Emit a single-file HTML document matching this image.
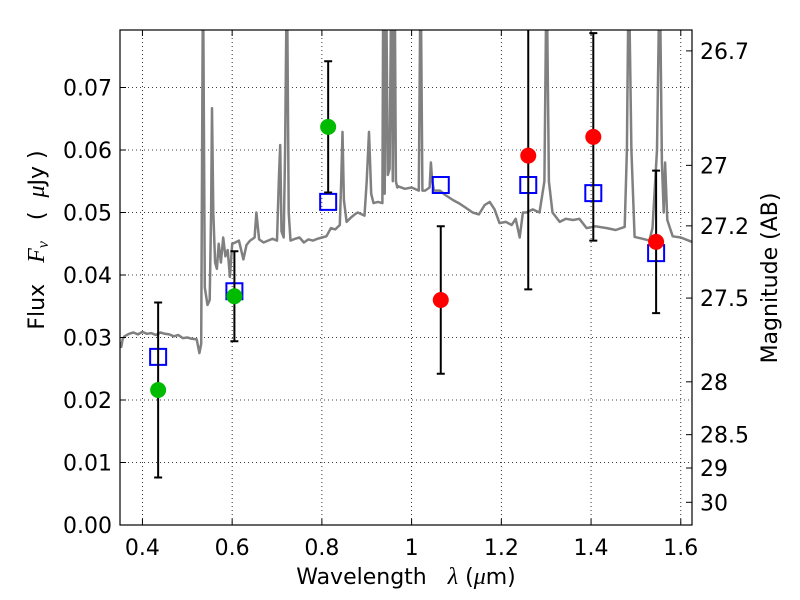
<!DOCTYPE html>
<html><head><meta charset="utf-8"><style>
body{margin:0;background:#fff;}
svg{display:block;font-family:"DejaVu Sans","Liberation Sans",sans-serif;}
</style></head><body>
<svg id="chart" width="800" height="600" viewBox="0 0 800 600" xmlns="http://www.w3.org/2000/svg">
<rect x="0" y="0" width="800" height="600" fill="#fff"/>
<g id="grid"></g>
<g id="spec"></g>
<g id="pts"></g>
<g id="axes"></g>
<text x="406" y="584" font-size="22" text-anchor="middle" xml:space="preserve">Wavelength   <tspan font-style="italic" font-family="Liberation Serif,serif" font-size="24">λ</tspan> (<tspan font-style="italic" font-family="Liberation Serif,serif" font-size="24">μ</tspan>m)</text>
<text transform="translate(44,240) rotate(-90)" font-size="22" text-anchor="middle" xml:space="preserve">Flux   <tspan font-style="italic" font-family="Liberation Serif,serif" font-size="24">F<tspan font-size="16" dy="4">ν</tspan></tspan><tspan dy="-4">   (  </tspan><tspan font-style="italic" font-family="Liberation Serif,serif" font-size="24">μ</tspan>Jy )</text>
<text transform="translate(777,278) rotate(-90)" font-size="22" text-anchor="middle">Magnitude (AB)</text>
</svg>
<script>
const xTicks=[0.4,0.6,0.8,1.0,1.2,1.4,1.6];
const xTickLabels=["0.4","0.6","0.8","1","1.2","1.4","1.6"];
const yTicks=[0,0.01,0.02,0.03,0.04,0.05,0.06,0.07];
const yTickLabels=["0.00","0.01","0.02","0.03","0.04","0.05","0.06","0.07"];
const magTicks=[26.7,27,27.2,27.5,28,28.5,29,30];
const magTickLabels=["26.7","27","27.2","27.5","28","28.5","29","30"];
const bandWave=[0.435,0.605,0.814,1.065,1.26,1.405,1.545];
const obsFlux=[0.0216,0.0366,0.0637,0.0360,0.0591,0.0621,0.0453];
const obsErr=[0.0140,0.0072,0.0105,0.0118,0.0214,0.0166,0.0114];
const obsColor=["#00bb00","#00bb00","#00bb00","#ff0000","#ff0000","#ff0000","#ff0000"];
const modelFlux=[0.0269,0.0374,0.0517,0.0544,0.0544,0.0531,0.0435];
const specWave=[0.35,0.353,0.356,0.36,0.37,0.38,0.39,0.40,0.41,0.42,0.43,0.44,0.45,0.46,0.47,0.48,0.49,0.50,0.51,0.521,0.527,0.531,0.535,0.539,0.545,0.55,0.553,0.555,0.558,0.562,0.566,0.57,0.575,0.58,0.585,0.59,0.595,0.60,0.607,0.615,0.625,0.632,0.64,0.65,0.654,0.66,0.67,0.68,0.69,0.70,0.704,0.707,0.71,0.715,0.718,0.722,0.726,0.73,0.74,0.75,0.76,0.77,0.78,0.79,0.80,0.81,0.82,0.83,0.84,0.843,0.846,0.849,0.855,0.865,0.875,0.88,0.895,0.90,0.905,0.91,0.915,0.925,0.935,0.937,0.94,0.943,0.947,0.951,0.955,0.958,0.962,0.965,0.968,0.97,0.985,1.0,1.016,1.02,1.024,1.03,1.04,1.043,1.046,1.05,1.063,1.075,1.092,1.105,1.12,1.136,1.15,1.163,1.174,1.185,1.196,1.21,1.223,1.232,1.241,1.248,1.256,1.27,1.285,1.296,1.301,1.306,1.314,1.33,1.344,1.36,1.374,1.39,1.41,1.435,1.455,1.475,1.480,1.484,1.490,1.497,1.515,1.53,1.537,1.547,1.553,1.558,1.562,1.565,1.570,1.582,1.60,1.625];
const specFlux=[0.0293,0.0285,0.0298,0.0302,0.0306,0.0308,0.0305,0.0309,0.0306,0.0307,0.0304,0.0308,0.0306,0.0305,0.0302,0.0304,0.0299,0.0300,0.0298,0.0297,0.0275,0.0290,0.090,0.038,0.0352,0.036,0.050,0.0667,0.050,0.042,0.041,0.045,0.042,0.046,0.043,0.044,0.0397,0.045,0.0452,0.0455,0.0425,0.0448,0.0455,0.046,0.0500,0.0457,0.0452,0.0455,0.0458,0.0455,0.055,0.0608,0.047,0.046,0.060,0.090,0.050,0.0455,0.0458,0.046,0.0452,0.0457,0.0455,0.0458,0.046,0.0462,0.0475,0.0473,0.048,0.055,0.0629,0.052,0.0485,0.0492,0.0498,0.050,0.0495,0.055,0.0629,0.053,0.0515,0.0517,0.0515,0.090,0.053,0.090,0.056,0.057,0.090,0.055,0.090,0.055,0.054,0.0542,0.0538,0.054,0.0535,0.090,0.0535,0.0535,0.054,0.058,0.055,0.0535,0.0535,0.0528,0.052,0.0515,0.0508,0.050,0.0497,0.0512,0.0517,0.0505,0.0483,0.0485,0.048,0.049,0.046,0.050,0.050,0.0505,0.050,0.055,0.090,0.055,0.050,0.0485,0.049,0.0488,0.049,0.0475,0.0478,0.0475,0.0472,0.0477,0.060,0.090,0.060,0.0461,0.0458,0.0455,0.0475,0.060,0.090,0.058,0.050,0.058,0.0488,0.0462,0.0460,0.0453];

const X0=120,X1=692,Y0=30,Y1=525,xMin=0.35,xMax=1.625,yMin=0,yMax=0.0792;
const sx=v=>X0+(v-xMin)/(xMax-xMin)*(X1-X0);
const sy=v=>Y1-(v-yMin)/(yMax-yMin)*(Y1-Y0);
const magToFlux=m=>Math.pow(10,(23.9-m)/2.5);
const NS="http://www.w3.org/2000/svg";
function mk(tag,attrs,parent){const e=document.createElementNS(NS,tag);for(const k in attrs)e.setAttribute(k,attrs[k]);parent.appendChild(e);return e;}
const grid=document.getElementById('grid'),spec=document.getElementById('spec'),pts=document.getElementById('pts'),axes=document.getElementById('axes');

xTicks.forEach((t,i)=>{
  const g=mk('line',{x1:sx(t),x2:sx(t),y1:Y0,y2:Y1,stroke:'#000','stroke-width':0.8,'stroke-dasharray':'1,3'},grid);
  
  
  const tk=mk('line',{x1:sx(t),x2:sx(t),y1:Y1,y2:Y1-6,stroke:'#000','stroke-width':1},axes);
  
  
  const tt=mk('line',{x1:sx(t),x2:sx(t),y1:Y0,y2:Y0+6,stroke:'#000','stroke-width':1},axes);
  
  
  const l=mk('text',{x:sx(t),y:Y1+30,'font-size':22,'text-anchor':'middle'},axes);
  l.textContent=xTickLabels[i];
  
  
});
yTicks.forEach((t,i)=>{
  if(t>0){
    const g=mk('line',{x1:X0,x2:X1,y1:sy(t),y2:sy(t),stroke:'#000','stroke-width':0.8,'stroke-dasharray':'1,3'},grid);
    
    
  }
  const tk=mk('line',{x1:X0,x2:X0+6,y1:sy(t),y2:sy(t),stroke:'#000','stroke-width':1},axes);
  
  
  const l=mk('text',{x:X0-8,y:sy(t)+8,'font-size':22,'text-anchor':'end'},axes);
  l.textContent=yTickLabels[i];
  
  
});
magTicks.forEach((m,i)=>{
  const y=sy(magToFlux(m));
  const tk=mk('line',{x1:X1,x2:X1-6,y1:y,y2:y,stroke:'#000','stroke-width':1},axes);
  
  
  const l=mk('text',{x:X1+8,y:y+8,'font-size':22},axes);
  l.textContent=magTickLabels[i];
  
  
});

mk('clipPath',{id:'clip'},document.getElementById('chart'));
mk('rect',{x:X0,y:Y0,width:X1-X0,height:Y1-Y0},document.getElementById('clip'));
const d=specWave.map((w,i)=>(i?'L':'M')+sx(w).toFixed(1)+','+sy(specFlux[i]).toFixed(1)).join(' ');
const sp=mk('path',{d:d,fill:'none',stroke:'#808080','stroke-width':2.5,'stroke-linejoin':'round','clip-path':'url(#clip)'},spec);



bandWave.forEach((w,i)=>{
  const x=sx(w);
  const top=Math.max(sy(obsFlux[i]+obsErr[i]),Y0),bot=sy(obsFlux[i]-obsErr[i]);
  const sq=mk('rect',{x:x-8,y:sy(modelFlux[i])-8,width:16,height:16,fill:'none',stroke:'#0000ff','stroke-width':2},pts);
  
  
  const eb=mk('line',{x1:x,x2:x,y1:top,y2:bot,stroke:'#000','stroke-width':2},pts);
  
  
  [top,bot].forEach(yy=>{
    if(yy<=Y0)return;
    const c=mk('line',{x1:x-4,x2:x+4,y1:yy,y2:yy,stroke:'#000','stroke-width':2},pts);
    
    
  });
  const p=mk('circle',{cx:x,cy:sy(obsFlux[i]),r:8,fill:obsColor[i]},pts);
  
  
});

const fr=mk('rect',{x:X0,y:Y0,width:X1-X0,height:Y1-Y0,fill:'none',stroke:'#000','stroke-width':1.2},axes);


</script>
</body></html>
